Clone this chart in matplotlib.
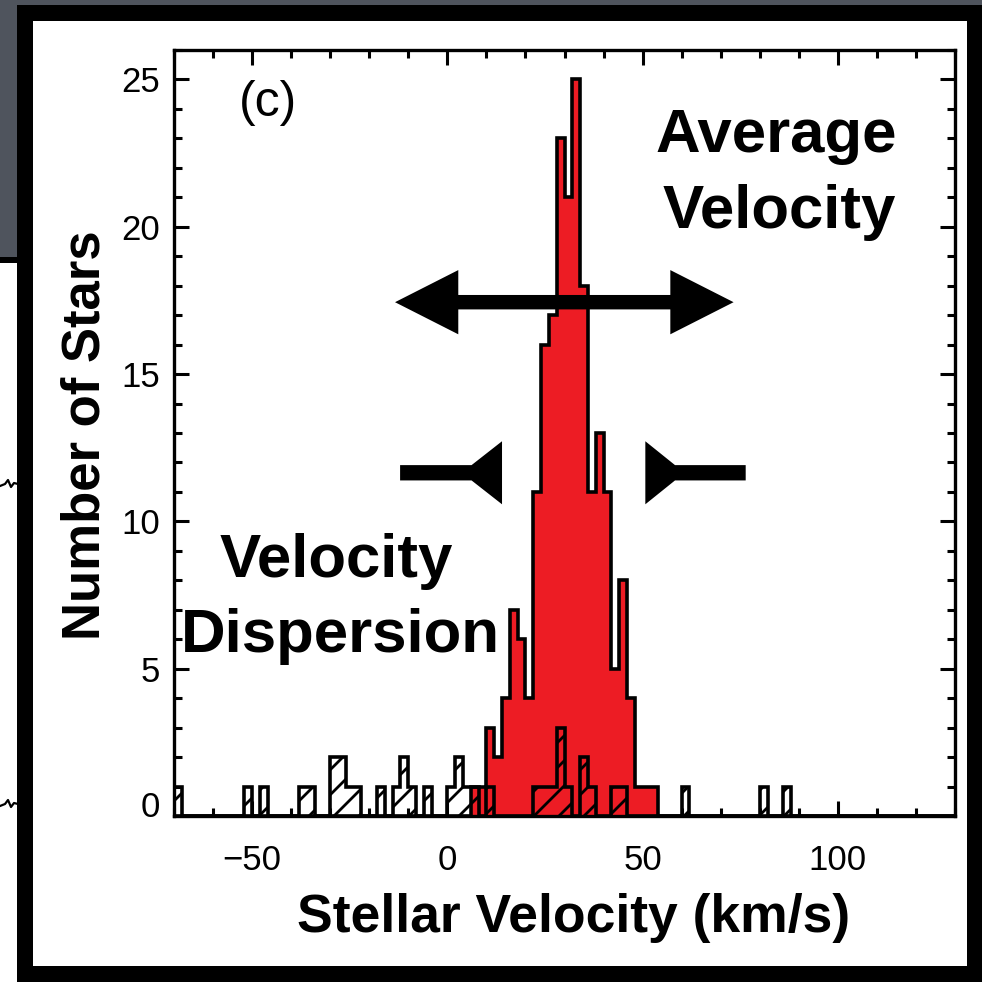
import numpy as np
import matplotlib
matplotlib.use("Agg")
import matplotlib.pyplot as plt
from matplotlib.patches import Rectangle, Polygon
from matplotlib.lines import Line2D
from matplotlib.ticker import MultipleLocator
from matplotlib.backend_bases import GraphicsContextBase
import matplotlib.transforms as mtransforms

# ---- histogram data (2 km/s bins) ----
bin_width = 2
x_range = (-70, 130)
y_range = (0, 26)

# member stars (filled red histogram): left bin edge -> count
member_bin_left = [6, 8, 10, 12, 14, 16, 18, 20, 22, 24, 26, 28, 30, 32,
                   34, 36, 38, 40, 42, 44, 46, 48, 50, 52]
member_counts = [1, 1, 3, 2, 4, 7, 6, 4, 11, 16, 17, 23, 21, 25,
                 18, 11, 13, 11, 5, 8, 4, 1, 1, 1]

# non-member / flagged stars (hatched histogram)
other_bin_left = [-70, -52, -48, -38, -36, -30, -28, -26, -24, -18, -14, -12,
                  -10, -6, 0, 2, 4, 6, 10, 22, 24, 26, 28, 30, 34, 36, 42, 44,
                  60, 80, 86]
other_counts = [1, 1, 1, 1, 1, 2, 2, 1, 1, 1, 1, 2,
                1, 1, 1, 2, 1, 1, 1, 1, 1, 1, 3, 1, 2, 1, 1, 1,
                1, 1, 1]

x_major = 50
x_minor = 10
y_major = 5
y_minor = 1

edges = np.arange(x_range[0], x_range[1] + bin_width, bin_width)


def binned(lefts, counts):
    vals = np.zeros(len(edges) - 1)
    idx = ((np.asarray(lefts) - edges[0]) // bin_width).astype(int)
    vals[idx] = counts
    return vals


member_vals = binned(member_bin_left, member_counts)
other_vals = binned(other_bin_left, other_counts)

RED = "#ED1C24"
FONT = "Liberation Sans"
plt.rcParams["font.family"] = [FONT, "DejaVu Sans"]
plt.rcParams["hatch.linewidth"] = 2.0

# slightly tighter hatch spacing than the default 6 lines per inch
_hatch_path = GraphicsContextBase.get_hatch_path
GraphicsContextBase.get_hatch_path = lambda self, density=8.0: _hatch_path(self, density)

W = 982.0
fig = plt.figure(figsize=(9.82, 9.82), dpi=100, facecolor="#4f545d")


def fbox(x0, y0, x1, y1):
    """pixel box (top-left origin) -> figure fraction rectangle"""
    return (x0 / W, 1 - y1 / W), (x1 - x0) / W, (y1 - y0) / W


# slide backdrop: neighbouring white panel on the left and the framed panel
for (x0, y0, x1, y1), col in [((0, 262, 18, 982), "white"),
                              ((0, 257, 18, 263), "black"),
                              ((17, 5, 982, 982), "black"),
                              ((33, 21, 967, 966), "white")]:
    xy, w, h = fbox(x0, y0, x1, y1)
    fig.patches.append(Rectangle(xy, w, h, transform=fig.transFigure,
                                 facecolor=col, edgecolor="none", zorder=-10))
# bits of the neighbouring panel's curves peeking out on the left
for yy in (484, 804):
    xs = np.array([0, 5, 8, 11, 14, 18]) / W
    ys = 1 - (yy + np.array([2, 0, -4, 3, -1, 0])) / W
    fig.lines.append(Line2D(xs, ys, transform=fig.transFigure, color="black",
                            linewidth=1.6, zorder=-5))

ax = fig.add_axes([174 / W, (982 - 816) / W, (955 - 174) / W, (816 - 50) / W])
ax.set_zorder(5)
ax.set_facecolor("white")
ax.set_xlim(*x_range)
ax.set_ylim(*y_range)

ax.stairs(member_vals, edges, fill=True, facecolor=RED, edgecolor="black",
          linewidth=2.6, zorder=2)
ax.stairs(other_vals, edges, fill=True, facecolor="none", edgecolor="black",
          hatch="/", linewidth=2.6, zorder=3)

# ---- arrows ----
# average velocity: double headed arrow
avg_y, avg_x0, avg_x1 = 17.44, -13.4, 73.3
avg_head_len, avg_head_half, avg_shaft_half = 16.2, 1.09, 0.245
big = [(avg_x0, avg_y),
       (avg_x0 + avg_head_len, avg_y + avg_head_half),
       (avg_x0 + avg_head_len, avg_y + avg_shaft_half),
       (avg_x1 - avg_head_len, avg_y + avg_shaft_half),
       (avg_x1 - avg_head_len, avg_y + avg_head_half),
       (avg_x1, avg_y),
       (avg_x1 - avg_head_len, avg_y - avg_head_half),
       (avg_x1 - avg_head_len, avg_y - avg_shaft_half),
       (avg_x0 + avg_head_len, avg_y - avg_shaft_half),
       (avg_x0 + avg_head_len, avg_y - avg_head_half)]
ax.add_patch(Polygon(big, closed=True, facecolor="black", edgecolor="none",
                     zorder=5))

# velocity dispersion: two flared bars pointing at the peak
disp_y = 11.65
disp_shaft_half, disp_head_half = 0.26, 1.07
for tail, apex, base in [(-12.1, 6.2, 14.0), (76.4, 58.3, 50.7)]:
    shape = [(tail, disp_y + disp_shaft_half),
             (apex, disp_y + disp_shaft_half),
             (base, disp_y + disp_head_half),
             (base, disp_y - disp_head_half),
             (apex, disp_y - disp_shaft_half),
             (tail, disp_y - disp_shaft_half)]
    ax.add_patch(Polygon(shape, closed=True, facecolor="black",
                         edgecolor="none", zorder=5))

# ---- text ----
ax.text(-46, 24.2, "(c)", fontsize=36, ha="center", va="center", zorder=6)
ax.text(84.1, 22.55, "Average", fontsize=44.5, fontweight="bold",
        ha="center", va="baseline", zorder=6)
ax.text(85.1, 19.95, "Velocity", fontsize=44.5, fontweight="bold",
        ha="center", va="baseline", zorder=6)
ax.text(-28.4, 8.1, "Velocity", fontsize=44.5, fontweight="bold",
        ha="center", va="baseline", zorder=6, clip_on=False)
ax.text(-27.4, 5.57, "Dispersion", fontsize=44.5, fontweight="bold",
        ha="center", va="baseline", zorder=6, clip_on=False)

ax.set_xlabel("Stellar Velocity (km/s)", fontsize=38.5, fontweight="bold")
ax.xaxis.set_label_coords(0.511, -0.101)
ax.set_ylabel("Number of Stars", fontsize=38, fontweight="bold")
ax.yaxis.set_label_coords(-0.081, 0.497)

# ---- axes styling ----
ax.xaxis.set_major_locator(MultipleLocator(x_major))
ax.xaxis.set_minor_locator(MultipleLocator(x_minor))
ax.yaxis.set_major_locator(MultipleLocator(y_major))
ax.yaxis.set_minor_locator(MultipleLocator(y_minor))
ax.tick_params(which="both", direction="in", top=True, right=True,
               width=2.2, labelsize=25)
ax.tick_params(which="major", length=11)
ax.tick_params(which="minor", length=6)
ax.tick_params(axis="x", pad=20)
ax.tick_params(axis="y", pad=10)
for s in ax.spines.values():
    s.set_linewidth(2.4)
    s.set_zorder(7)

fig.canvas.draw()
# the zero label on the count axis sits a little above its tick
for t in ax.yaxis.get_major_ticks():
    if abs(t.get_loc()) < 1e-9:
        t.label1.set_transform(t.label1.get_transform() +
                               mtransforms.ScaledTranslation(0, 0.12, fig.dpi_scale_trans))

fig.savefig("out.png", dpi=100, facecolor=fig.get_facecolor())
